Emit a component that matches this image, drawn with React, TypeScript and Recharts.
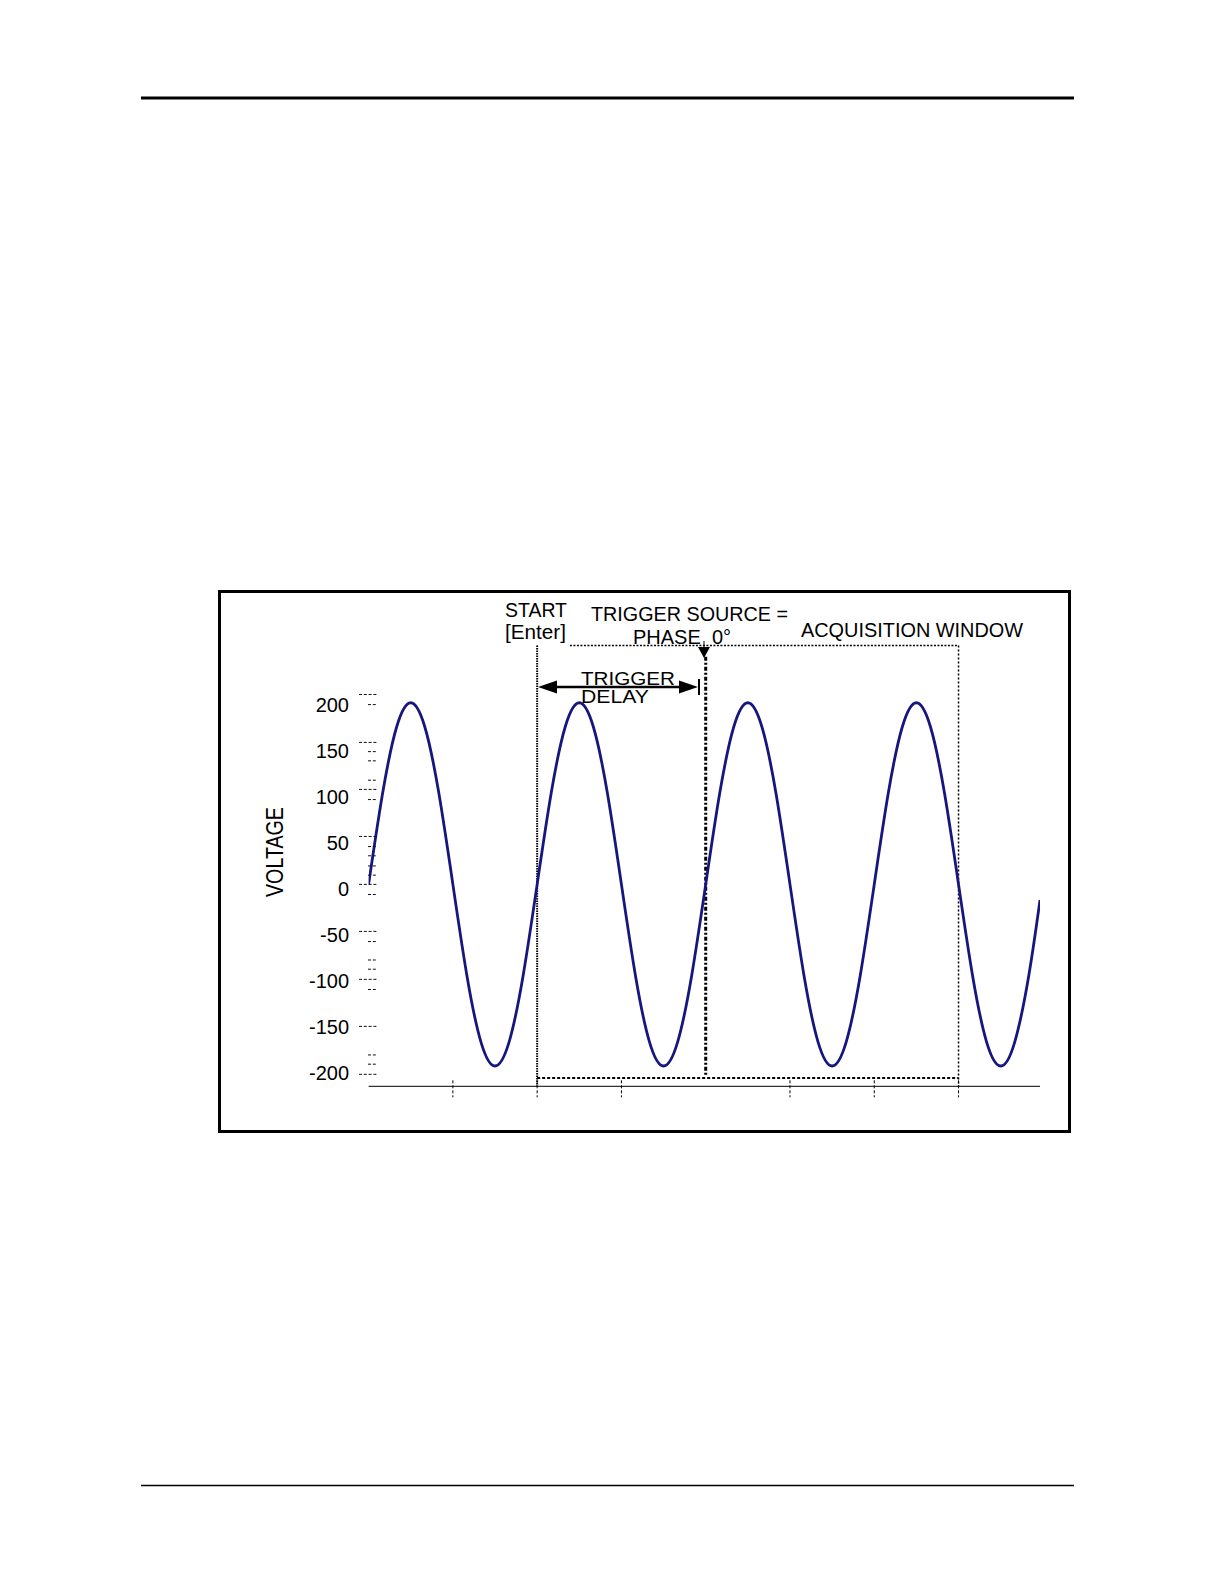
import React from 'react';
import { LineChart, Line, XAxis, YAxis, ReferenceLine } from 'recharts';

// ---- data ----
const phaseDeg = [
  0, 30, 60, 90, 120, 150, 180, 210, 240, 270, 300, 330,
  360, 390, 420, 450, 480, 510, 540, 570, 600, 630, 660, 690,
  720, 750, 780, 810, 840, 870, 900, 930, 960, 990, 1020, 1050,
  1080, 1110, 1140, 1170, 1200, 1230, 1260, 1290, 1320, 1350, 1380, 1410,
  1434,
];
const voltage = [
  5, 104, 176, 202, 176, 104, 5, -94, -166, -192, -166, -94,
  5, 104, 176, 202, 176, 104, 5, -94, -166, -192, -166, -94,
  5, 104, 176, 202, 176, 104, 5, -94, -166, -192, -166, -94,
  5, 104, 176, 202, 176, 104, 5, -94, -166, -192, -166, -94,
  -12,
];
const yTickLabels = [200, 150, 100, 50, 0, -50, -100, -150, -200];
const xTickMarks = [180, 360, 540, 900, 1080, 1260];
const yMajorMarks = [211, 159, 108, 57, 5, -46, -98, -149, -201];
const yMinorMarks = [200, 149, 139, 118, 97, 46, 36, 25, 15, -6, -57, -77, -87, -109, -180, -190];

const startPhase = 360;
const triggerPhase = 720;
const windowEndPhase = 1260;
const windowTopStartPhase = 430;
const windowTopV = 264;
const windowBottomV = -205;
const triggerTopV = 252;
const triggerBottomV = -202;

const xDomain = [0, 1434];
const yDomain = [-214, 300];

const data = phaseDeg.map((p, i) => ({ phase: p, v: voltage[i] }));

// ---- layout ----
const W = 1224;
const H = 1584;
const PLOT_LEFT = 368.6;
const PLOT_RIGHT = 1040;
const PLOT_TOP = 612.4;
const PLOT_BOTTOM = 1086.3;
const X_AXIS_H = 20;
const MARK_AXIS_W = 2;
const FONT = '"Liberation Sans", Arial, Helvetica, sans-serif';
const WAVE = '#16167f';

const YLabelTick = (props: any) => {
  const { x, y, payload } = props;
  return (
    <text x={x} y={y} dy="0.355em" textAnchor="end" fontSize={20} fontFamily={FONT} fill="#000">
      {payload.value}
    </text>
  );
};

const YMarkTick = (props: any) => {
  const { y, payload } = props;
  const major = yMajorMarks.includes(payload.value);
  const x1 = major ? PLOT_LEFT - 9.6 : PLOT_LEFT - 0.6;
  return (
    <line x1={x1} x2={PLOT_LEFT + 8.4} y1={y} y2={y} stroke="#111" strokeWidth={1} strokeDasharray="3 1.8" />
  );
};

const XMarkTick = (props: any) => {
  const { x, y } = props;
  return <line x1={x} x2={x} y1={y - 6} y2={y + 11} stroke="#000" strokeWidth={1} strokeDasharray="3 2" />;
};

export default function App() {
  return (
    <div style={{ position: 'absolute', left: 0, top: 0, width: W, height: H, background: '#fff' }}>
      <div style={{ position: 'absolute', left: 0, top: 0 }}>
        <LineChart
          width={W}
          height={H}
          data={data}
          margin={{
            top: PLOT_TOP,
            right: W - PLOT_RIGHT - MARK_AXIS_W,
            bottom: H - PLOT_BOTTOM - X_AXIS_H,
            left: 0,
          }}
        >
          <XAxis
            dataKey="phase"
            type="number"
            domain={xDomain}
            ticks={xTickMarks}
            interval={0}
            height={X_AXIS_H}
            tickSize={0}
            tickMargin={0}
            tickLine={false}
            tick={XMarkTick}
            axisLine={{ stroke: '#000', strokeWidth: 1 }}
            allowDataOverflow
          />
          <YAxis
            type="number"
            domain={yDomain}
            ticks={yTickLabels}
            interval={0}
            width={PLOT_LEFT}
            tickSize={0}
            tickMargin={PLOT_LEFT - 349}
            tickLine={false}
            axisLine={false}
            tick={YLabelTick}
            allowDataOverflow
          />
          <YAxis
            yAxisId="m"
            orientation="right"
            type="number"
            domain={yDomain}
            ticks={[...yMajorMarks, ...yMinorMarks]}
            interval={0}
            width={MARK_AXIS_W}
            tickSize={0}
            tickLine={false}
            axisLine={false}
            tick={YMarkTick}
            allowDataOverflow
          />
          <ReferenceLine
            segment={[{ x: startPhase, y: windowTopV }, { x: startPhase, y: yDomain[0] }]}
            stroke="#000"
            strokeWidth={2}
            strokeDasharray="1.5 1"
          />
          <ReferenceLine
            segment={[{ x: windowTopStartPhase, y: windowTopV }, { x: windowEndPhase, y: windowTopV }]}
            stroke="#000"
            strokeWidth={1.5}
            strokeDasharray="2 1.5"
          />
          <ReferenceLine
            segment={[{ x: startPhase, y: windowBottomV }, { x: windowEndPhase, y: windowBottomV }]}
            stroke="#000"
            strokeWidth={2}
            strokeDasharray="3 2"
          />
          <ReferenceLine
            segment={[{ x: windowEndPhase, y: windowTopV }, { x: windowEndPhase, y: yDomain[0] }]}
            stroke="#000"
            strokeWidth={1.5}
            strokeDasharray="2 2"
          />
          <ReferenceLine
            segment={[{ x: triggerPhase, y: triggerTopV }, { x: triggerPhase, y: triggerBottomV }]}
            stroke="#000"
            strokeWidth={3}
            strokeDasharray="4 2 2 2"
          />
          <Line
            type="natural"
            dataKey="v"
            stroke={WAVE}
            strokeWidth={2.8}
            dot={false}
            activeDot={false}
            isAnimationActive={false}
          />
        </LineChart>
      </div>
      <svg
        width={W}
        height={H}
        style={{ position: 'absolute', left: 0, top: 0, pointerEvents: 'none' }}
      >
        {/* page rules */}
        <line x1={141} x2={1074} y1={98} y2={98} stroke="#000" strokeWidth={3} />
        <line x1={141} x2={1074} y1={1485.5} y2={1485.5} stroke="#000" strokeWidth={1.5} />
        {/* frame */}
        <rect x={219.5} y={591.5} width={850} height={540} fill="none" stroke="#000" strokeWidth={3} />
        {/* axis title */}
        <text
          x={0}
          y={0}
          transform="translate(283 852) rotate(-90)"
          textAnchor="middle"
          fontSize={24}
          fontFamily={FONT}
          textLength={90}
          lengthAdjust="spacingAndGlyphs"
          fill="#000"
        >
          VOLTAGE
        </text>
        {/* annotations */}
        <g fontFamily={FONT} fill="#000">
          <text x={505} y={617} fontSize={20} textLength={62} lengthAdjust="spacingAndGlyphs">START</text>
          <text x={505} y={639} fontSize={20} textLength={61} lengthAdjust="spacingAndGlyphs">[Enter]</text>
          <text x={591} y={621} fontSize={20} textLength={197} lengthAdjust="spacingAndGlyphs">TRIGGER SOURCE =</text>
          <text x={633} y={644} fontSize={20} xmlSpace="preserve">PHASE  0°</text>
          <text x={801} y={637} fontSize={20} textLength={222} lengthAdjust="spacingAndGlyphs">ACQUISITION WINDOW</text>
          <text x={581} y={685} fontSize={19} textLength={94} lengthAdjust="spacingAndGlyphs">TRIGGER</text>
          <text x={581} y={703} fontSize={19} textLength={68} lengthAdjust="spacingAndGlyphs">DELAY</text>
        </g>
        {/* trigger delay arrow */}
        <line x1={548} x2={688} y1={687} y2={687} stroke="#000" strokeWidth={2.5} />
        <polygon points="538,687 557,680.5 557,693.5" fill="#000" />
        <polygon points="698,687 679,680.5 679,693.5" fill="#000" />
        <line x1={699} x2={699} y1={679} y2={695} stroke="#000" strokeWidth={2} />
        {/* trigger down arrow */}
        <line x1={704} x2={704} y1={641} y2={648} stroke="#000" strokeWidth={1} />
        <polygon points="698,647 710,647 704,658" fill="#000" />
      </svg>
    </div>
  );
}
